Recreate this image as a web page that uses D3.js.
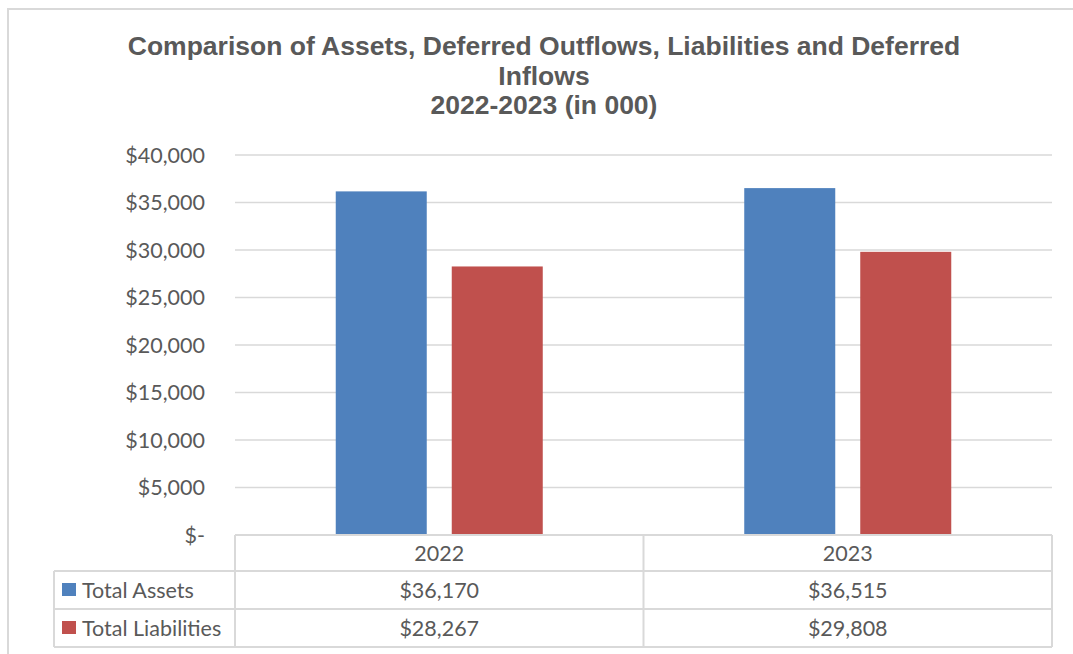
<!DOCTYPE html>
<meta charset="utf-8">
<style>
body { margin: 0; background: #fff; }
text { fill: #595959; }
.title { font-family: "Liberation Sans", Arial, sans-serif; font-weight: bold; font-size: 26.5px; }
.lbl { font-family: Lato, "Open Sans", sans-serif; font-size: 21.5px; }
</style>
<svg width="1073" height="654"></svg>
<script src="https://cdn.jsdelivr.net/npm/d3@7"></script>
<script>

var categories = ["2022", "2023"];
var seriesNames = ["Total Assets", "Total Liabilities"];
var assets = [36170, 36515];
var liabilities = [28267, 29808];
var yTicks = [0, 5000, 10000, 15000, 20000, 25000, 30000, 35000, 40000];
var colors = ["#4F81BD", "#C0504D"];

var svg = d3.select("svg");

// frame of the chart area (cut off at right/bottom)
svg.append("path")
    .attr("d", "M8,654 L8,9 L1073,9")
    .attr("fill", "none")
    .attr("stroke", "#d9d9d9")
    .attr("stroke-width", 2);

var plotL = 235, plotR = 1052, plotT = 155, plotB = 535;

var y = d3.scaleLinear().domain([0, 40000]).range([plotB, plotT]);
var x0 = d3.scaleBand().domain(categories).range([plotL, plotR]).paddingInner(0).paddingOuter(0);
var x1 = d3.scaleBand().domain(seriesNames).range([0, x0.bandwidth()])
    .paddingInner(0.2155).paddingOuter(0.8685);

// title
var titleLines = ["Comparison of Assets, Deferred Outflows, Liabilities and Deferred", "Inflows", "2022-2023 (in 000)"];
svg.selectAll(".title")
    .data(titleLines)
    .enter().append("text")
    .attr("class", "title")
    .attr("x", 544)
    .attr("y", function (d, i) { return 55 + i * 29.5; })
    .attr("text-anchor", "middle")
    .text(function (d) { return d; });

// gridlines
svg.selectAll(".grid")
    .data(yTicks.filter(function (d) { return d > 0; }))
    .enter().append("line")
    .attr("x1", plotL).attr("x2", plotR)
    .attr("y1", function (d) { return y(d); })
    .attr("y2", function (d) { return y(d); })
    .attr("stroke", "#d9d9d9")
    .attr("stroke-width", 1.5);

// y labels
var fmt = d3.format(",");
svg.selectAll(".ylbl")
    .data(yTicks)
    .enter().append("text")
    .attr("class", "lbl")
    .attr("x", 205)
    .attr("y", function (d) { return y(d); })
    .attr("dy", "0.35em")
    .attr("text-anchor", "end")
    .text(function (d) { return d === 0 ? "$-" : "$" + fmt(d); });

// bars
var seriesVals = [assets, liabilities];
var groups = svg.selectAll(".grp")
    .data(categories)
    .enter().append("g")
    .attr("transform", function (d) { return "translate(" + x0(d) + ",0)"; });

groups.selectAll("rect")
    .data(function (d, ci) { return seriesNames.map(function (s, si) { return { s: s, si: si, v: seriesVals[si][ci] }; }); })
    .enter().append("rect")
    .attr("x", function (d) { return x1(d.s); })
    .attr("width", x1.bandwidth())
    .attr("y", function (d) { return y(d.v); })
    .attr("height", function (d) { return y(0) - y(d.v); })
    .attr("fill", function (d) { return colors[d.si]; });

// data table
var rowY = [535, 571, 609, 647];
var legLeft = 54;
var tbl = svg.append("g")
    .attr("fill", "none")
    .attr("stroke", "#d9d9d9")
    .attr("stroke-width", 2);

tbl.append("line").attr("x1", plotL).attr("x2", plotR).attr("y1", rowY[0]).attr("y2", rowY[0]);
[1, 2, 3].forEach(function (i) {
  tbl.append("line").attr("x1", legLeft).attr("x2", plotR).attr("y1", rowY[i]).attr("y2", rowY[i]);
});
tbl.append("line").attr("x1", legLeft).attr("x2", legLeft).attr("y1", rowY[1]).attr("y2", rowY[3]);
var cols = [plotL].concat(categories.map(function (c) { return x0(c) + x0.bandwidth(); }));
cols.forEach(function (cx) {
  tbl.append("line").attr("x1", cx).attr("x2", cx).attr("y1", rowY[0]).attr("y2", rowY[3]);
});

// header row
svg.selectAll(".cat")
    .data(categories)
    .enter().append("text")
    .attr("class", "lbl")
    .attr("x", function (d) { return x0(d) + x0.bandwidth() / 2; })
    .attr("y", (rowY[0] + rowY[1]) / 2)
    .attr("dy", "0.35em")
    .attr("text-anchor", "middle")
    .text(function (d) { return d; });

// series rows
seriesNames.forEach(function (s, si) {
  var cy = (rowY[si + 1] + rowY[si + 2]) / 2;
  svg.append("rect")
      .attr("x", 62).attr("y", cy - 7)
      .attr("width", 14).attr("height", 13)
      .attr("fill", colors[si]);
  svg.append("text")
      .attr("class", "lbl")
      .attr("x", 82).attr("y", cy)
      .attr("dy", "0.35em")
      .text(s);
  categories.forEach(function (c, ci) {
    svg.append("text")
        .attr("class", "lbl")
        .attr("x", x0(c) + x0.bandwidth() / 2)
        .attr("y", cy)
        .attr("dy", "0.35em")
        .attr("text-anchor", "middle")
        .text("$" + fmt(seriesVals[si][ci]));
  });
});

</script>
